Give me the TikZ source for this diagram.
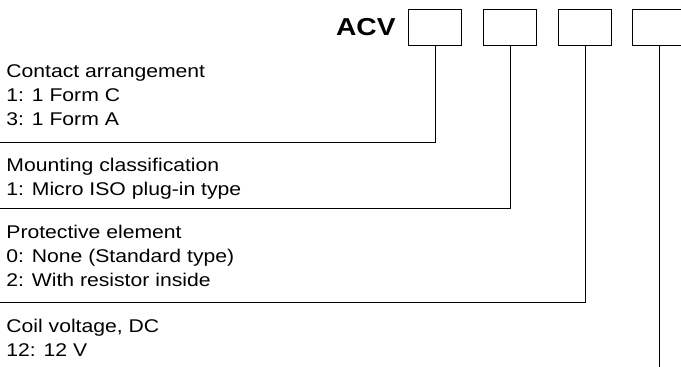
\documentclass[tikz,border=0pt]{standalone}
\usepackage{fontspec}
\setmainfont{Liberation Sans}[FakeStretch=1.15]
\usetikzlibrary{positioning}

\begin{document}
\begin{tikzpicture}[x=1pt, y=-1pt, line width=0.8pt,
    every node/.style={inner sep=0pt},
    codebox/.style={draw, minimum width=53pt, minimum height=36pt},
    desc/.style={anchor=base west, align=left, font=\fontsize{18.4}{23.8}\selectfont}]
    \clip (0,0) rectangle (681,367);

    % Type code
    \node (acv) [anchor=base east, font=\fontsize{24.5}{24.5}\selectfont\bfseries] at (396,35) {ACV};
    \node (box1) [codebox] at (435,27) {};
    \node (box2) [codebox] at (510,27) {};
    \node (box3) [codebox] at (585,27) {};
    \node (box4) [codebox] at (659,27) {};

    % Descriptions (anchored at the last line)
    \node (contact) [desc] at (6,125) {Contact arrangement\\1: 1 Form C\\3: 1 Form A};
    \node (mount) [desc] at (6,195) {Mounting classification\\1: Micro ISO plug-in type};
    \node (protect) [desc] at (6,286) {Protective element\\0: None (Standard type)\\2: With resistor inside};
    \node (coil) [desc] at (6,356) {Coil voltage, DC\\12: 12 V};

    % Leader lines
    \coordinate (end1) at (0,142);
    \coordinate (end2) at (0,208);
    \coordinate (end3) at (0,302);
    \coordinate (end4) at (659,367);
    \draw (box1.south) |- (end1);
    \draw (box2.south) |- (end2);
    \draw (box3.south) |- (end3);
    \draw (box4.south) -- (end4);
\end{tikzpicture}
\end{document}
